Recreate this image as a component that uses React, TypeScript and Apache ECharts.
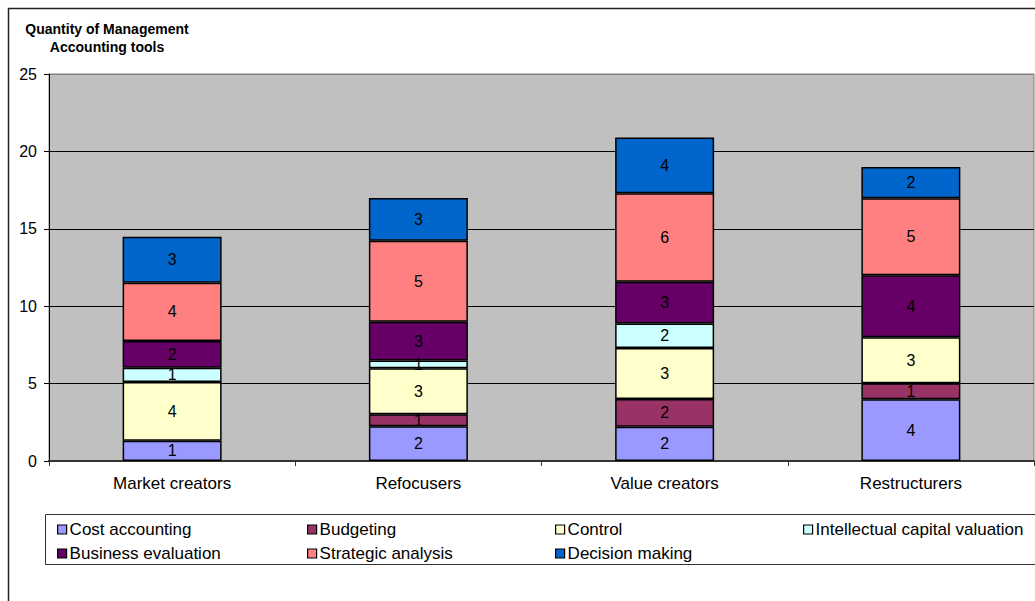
import React, { useEffect, useRef } from "react";
import * as echarts from "echarts";

const categories = ["Market creators", "Refocusers", "Value creators", "Restructurers"];
const seriesNames = [
  "Cost accounting",
  "Budgeting",
  "Control",
  "Intellectual capital valuation",
  "Business evaluation",
  "Strategic analysis",
  "Decision making",
];
const costAccounting = [1.31, 2.24, 2.22, 3.99];
const budgeting = [null, 0.78, 1.79, 1.03];
const control = [3.79, 2.97, 3.29, 2.97];
const intellectualCapital = [0.93, 0.51, 1.59, null];
const businessEvaluation = [1.72, 2.5, 2.69, 4.01];
const strategicAnalysis = [3.77, 5.23, 5.71, 4.97];
const decisionMaking = [2.97, 2.76, 3.6, 2.02];
const seriesColors = ["#9999FF", "#993366", "#FFFFCC", "#CCFFFF", "#660066", "#FF8080", "#0066CC"];
const yTicks = [0, 5, 10, 15, 20, 25];

const allValues = [
  costAccounting,
  budgeting,
  control,
  intellectualCapital,
  businessEvaluation,
  strategicAnalysis,
  decisionMaking,
];

const FONT = "'Liberation Sans', Arial, sans-serif";

export default function App() {
  const ref = useRef<HTMLDivElement>(null);
  useEffect(() => {
    if (!ref.current) return;
    const chart = echarts.init(ref.current, null, { renderer: "svg" });
    const legendColumns = [
      { left: 57, names: [seriesNames[0], seriesNames[4]] },
      { left: 307, names: [seriesNames[1], seriesNames[5]] },
      { left: 555, names: [seriesNames[2], seriesNames[6]] },
      { left: 803, names: [seriesNames[3]] },
    ];
    chart.setOption({
      animation: false,
      textStyle: { fontFamily: FONT },
      grid: {
        left: 49,
        top: 74,
        right: 1,
        bottom: 140,
        show: true,
        backgroundColor: "#C0C0C0",
        borderColor: "#808080",
        borderWidth: 1,
        containLabel: false,
        outerBoundsMode: "none",
      },
      legend: legendColumns.map((c) => ({
        orient: "vertical",
        left: c.left,
        top: 521,
        padding: 0,
        itemGap: 7,
        itemWidth: 9,
        itemHeight: 9,
        icon: "rect",
        selectedMode: false,
        data: c.names,
        textStyle: { fontFamily: FONT, fontSize: 17, color: "#000", padding: [0, 0, 0, -2] },
        itemStyle: { borderColor: "#000", borderWidth: 1.2 },
      })),
      xAxis: {
        type: "category",
        data: categories,
        axisLine: { lineStyle: { color: "#333", width: 2 } },
        axisTick: { show: true, length: 5, lineStyle: { color: "#333" } },
        axisLabel: { fontFamily: FONT, fontSize: 17, color: "#000", margin: 14 },
        splitLine: { show: false },
      },
      yAxis: {
        type: "value",
        min: yTicks[0],
        max: yTicks[yTicks.length - 1],
        interval: 5,
        axisLine: { show: true, lineStyle: { color: "#000", width: 1 } },
        axisTick: { show: true, length: 5, lineStyle: { color: "#000" } },
        axisLabel: { fontFamily: FONT, fontSize: 16, color: "#000", margin: 12 },
        splitLine: {
          show: true,
          lineStyle: { color: ["#000", "#000", "#000", "#000", "#000", "#808080"], width: 1 },
        },
      },
      series: seriesNames.map((name, i) => ({
        name,
        type: "bar",
        stack: "total",
        barWidth: 99,
        data: allValues[i],
        itemStyle: { color: seriesColors[i], borderColor: "#000", borderWidth: 1.5 },
        label: {
          show: true,
          position: "inside",
          fontFamily: FONT,
          fontSize: 16,
          color: "#000",
          formatter: (p: any) =>
            p.value === null || p.value === undefined ? "" : String(Math.round(p.value)),
        },
      })),
      graphic: [
        {
          type: "rect",
          shape: { x: 8.5, y: 8.5, width: 1200, height: 800 },
          style: { fill: "none", stroke: "#222", lineWidth: 1.5 },
          silent: true,
          z: -10,
        },
        {
          type: "rect",
          shape: { x: 45.5, y: 514.5, width: 1100, height: 50 },
          style: { fill: "none", stroke: "#333", lineWidth: 1 },
          silent: true,
        },
        {
          type: "text",
          x: 107,
          y: 38,
          style: {
            text: "Quantity of Management\nAccounting tools",
            font: `bold 14px ${FONT}`,
            textAlign: "center",
            textVerticalAlign: "middle",
            lineHeight: 18,
            fill: "#000",
          },
        },
      ],
    });
    return () => chart.dispose();
  }, []);
  return (
    <div
      ref={ref}
      style={{ position: "fixed", left: 0, top: 0, width: 1035, height: 601, background: "#fff" }}
    />
  );
}
